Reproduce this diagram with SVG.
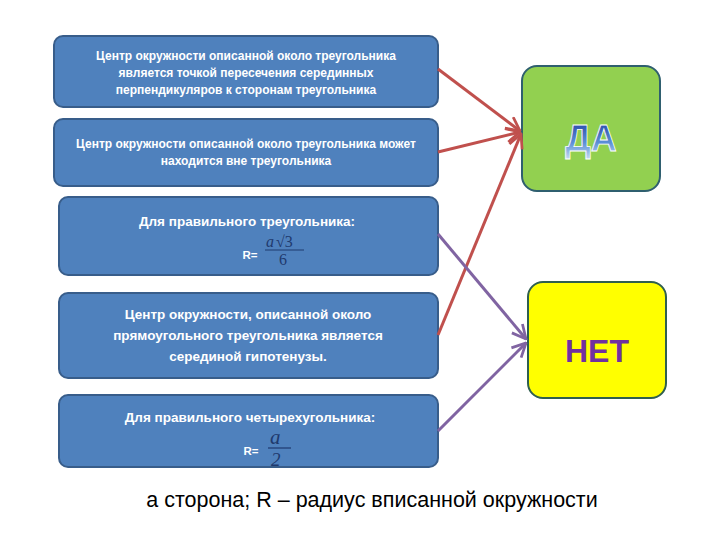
<svg xmlns="http://www.w3.org/2000/svg" width="720" height="540" viewBox="0 0 720 540">
<style>
.box{fill:#4f81bd;stroke:#385d8a;stroke-width:2}
.t{font-family:"Liberation Sans",Arial,sans-serif;fill:#fff;text-anchor:middle;font-size:12px;font-weight:bold}
.tb{font-family:"Liberation Sans",Arial,sans-serif;fill:#fff;text-anchor:middle;font-size:13.5px;font-weight:bold}
.m{font-family:"Liberation Serif","Times New Roman",serif;fill:#1f3a6e}
.red{stroke:#c0504d;stroke-width:3;fill:none}
.pur{stroke:#8064a2;stroke-width:3;fill:none}
</style>
<defs>
<marker id="ar" viewBox="0 0 12 12" refX="11" refY="6" markerWidth="5.5" markerHeight="5.5" orient="auto" markerUnits="strokeWidth">
<path d="M1,1 L11,6 L1,11" fill="none" stroke="#c0504d" stroke-width="2"/>
</marker>
<marker id="ap" viewBox="0 0 12 12" refX="11" refY="6" markerWidth="5.5" markerHeight="5.5" orient="auto" markerUnits="strokeWidth">
<path d="M1,1 L11,6 L1,11" fill="none" stroke="#8064a2" stroke-width="2"/>
</marker>
<linearGradient id="g" x1="0" y1="0" x2="0" y2="1">
<stop offset="0" stop-color="#1f3a9e"/>
<stop offset="0.6" stop-color="#5b8fd6"/>
<stop offset="1" stop-color="#c6dbf5"/>
</linearGradient>
</defs>
<rect width="720" height="540" fill="#fff"/>
<g id="n1">
<rect class="box" x="54" y="36" width="384" height="71" rx="9"/>
<text class="t" x="246" y="60">Центр окружности описанной около треугольника</text>
<text class="t" x="246" y="77">является точкой пересечения  серединных</text>
<text class="t" x="246" y="94">перпендикуляров к сторонам треугольника</text>
</g>
<g id="n2">
<rect class="box" x="54" y="119" width="384" height="67" rx="9"/>
<text class="t" x="246" y="148">Центр окружности описанной около треугольника может</text>
<text class="t" x="246" y="165">находится вне треугольника</text>
</g>
<g id="n3">
<rect class="box" x="59" y="197" width="379" height="78" rx="9"/>
<text class="tb" x="247" y="226">Для правильного треугольника:</text>
<text class="tb" x="250" y="259" style="font-size:11.5px">R=</text>
<text class="m" x="266" y="247" font-size="16" font-style="italic">a</text>
<text class="m" x="276" y="247" font-size="16">√3</text>
<line x1="265" y1="250" x2="304" y2="250" stroke="#1f3a6e" stroke-width="1"/>
<text class="m" x="279" y="265" font-size="16">6</text>
</g>
<g id="n4">
<rect class="box" x="59" y="293" width="379" height="85" rx="9"/>
<text class="tb" x="248" y="319">Центр окружности, описанной около</text>
<text class="tb" x="248" y="340">прямоугольного треугольника является</text>
<text class="tb" x="248" y="361">серединой гипотенузы.</text>
</g>
<g id="n5">
<rect class="box" x="59" y="395" width="379" height="72" rx="9"/>
<text class="tb" x="250" y="422">Для правильного четырехугольника:</text>
<text class="tb" x="251" y="455" style="font-size:11.5px">R=</text>
<text class="m" x="270" y="444" font-size="21" font-style="italic">a</text>
<line x1="268" y1="448" x2="291" y2="448" stroke="#1f3a6e" stroke-width="1.2"/>
<text class="m" x="271" y="466" font-size="19" font-style="italic">2</text>
</g>
<g id="da">
<rect x="522" y="66" width="138" height="125" rx="15" fill="#92d050" stroke="#2f5f6f" stroke-width="2"/>
<text x="591" y="151" text-anchor="middle" font-family="'Liberation Sans',Arial,sans-serif" font-weight="bold" font-size="36" fill="url(#g)" stroke="#fff" stroke-width="0.8">ДА</text>
</g>
<g id="net">
<rect x="528" y="282" width="138" height="116" rx="15" fill="#ffff00" stroke="#2f5f4f" stroke-width="2"/>
<text x="597" y="362" text-anchor="middle" font-family="'Liberation Sans',Arial,sans-serif" font-weight="bold" font-size="32" fill="#7030a0">НЕТ</text>
</g>
<g id="connectors">
<line class="red" x1="438" y1="69" x2="520" y2="131" marker-end="url(#ar)"/>
<line class="red" x1="438" y1="152" x2="520" y2="132" marker-end="url(#ar)"/>
<line class="red" x1="438" y1="335" x2="521" y2="134" marker-end="url(#ar)"/>
<line class="pur" x1="438" y1="234" x2="526" y2="339" marker-end="url(#ap)"/>
<line class="pur" x1="438" y1="431" x2="526" y2="343" marker-end="url(#ap)"/>
</g>
<text x="372" y="507" text-anchor="middle" font-family="'Liberation Sans',Arial,sans-serif" font-size="21.5" fill="#000">a сторона; R – радиус вписанной окружности</text>
</svg>
